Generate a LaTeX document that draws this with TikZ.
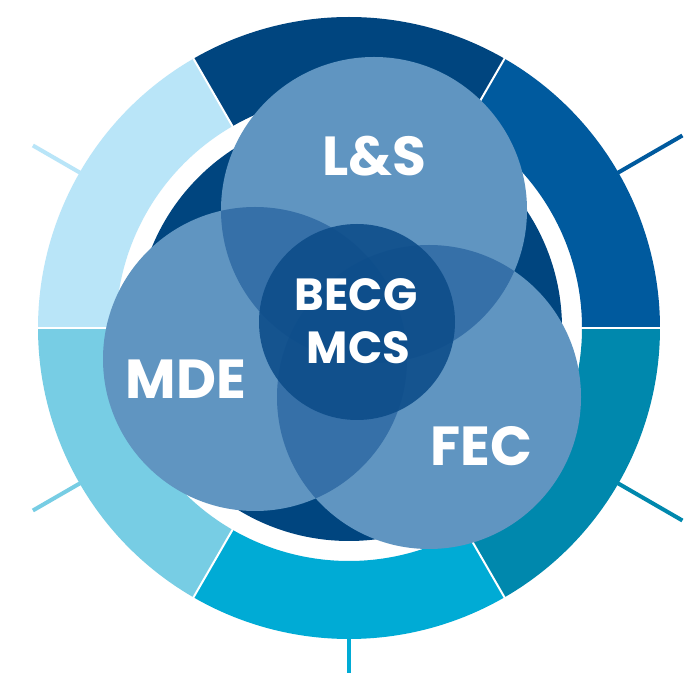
\documentclass[tikz,border=0pt]{standalone}
\usepackage{fontspec}
\setmainfont{Poppins}
\begin{document}
\begin{tikzpicture}[x=1pt,y=1pt,
  spoke/.style={line width=4pt},
  seplineW/.style={draw=white,line width=2pt},
  biglabel/.style={text=white,font=\bfseries\fontsize{55}{55}\selectfont,inner sep=0pt},
  corelabel/.style={text=white,font=\bfseries\fontsize{45}{45}\selectfont,inner sep=0pt}]
\definecolor{segA}{HTML}{005A9E}
\definecolor{segB}{HTML}{00457F}
\definecolor{segC}{HTML}{B9E5F8}
\definecolor{segD}{HTML}{77CDE4}
\definecolor{segE}{HTML}{00ABD5}
\definecolor{segF}{HTML}{0088AD}
\definecolor{diskc}{HTML}{00457F}
\definecolor{onec}{HTML}{6095C1}
\definecolor{twoc}{HTML}{3670A8}
\definecolor{threec}{HTML}{1F5D97}
\definecolor{corec}{HTML}{0D4D8A}
\useasboundingbox (0,0) rectangle (688,672);
\fill[white] (0,0) rectangle (688,672);

% centre of the ring and of the three topic circles
\coordinate (o) at (349,344);
\coordinate (ls) at (374,462);
\coordinate (mde) at (255,313);
\coordinate (fec) at (429,275);
\coordinate (cc) at (357,350);

% spokes leaving the ring
\draw[spoke,segA] (o) ++(30:300pt) -- ++(30:85pt) coordinate (s1);
\draw[spoke,segC] (o) ++(150:300pt) -- ++(150:65pt) coordinate (s2);
\draw[spoke,segD] (o) ++(210:300pt) -- ++(210:65pt) coordinate (s3);
\draw[spoke,segE] (o) ++(270:300pt) -- ++(270:60pt) coordinate (s4);
\draw[spoke,segF] (o) ++(330:300pt) -- ++(330:85pt) coordinate (s5);

% outer ring in six segments
\foreach \a/\c in {0/segA,60/segB,120/segC,180/segD,240/segE,300/segF}{
  \fill[\c] (o) ++(\a:233pt) -- ++(\a:78pt) arc[start angle=\a,end angle=\a+60,radius=311pt]
    -- ++(\a+60:-78pt) arc[start angle=\a+60,end angle=\a,radius=233pt] -- cycle;
}
\foreach \a in {0,60,...,300}{
  \draw[seplineW] (o) ++(\a:231pt) -- ++(\a:82pt);
}

% inner disk
\fill[diskc] (o) circle (213pt);

% topic circles
\fill[onec] (ls) circle (153pt);
\fill[onec] (mde) circle (152pt);
\fill[onec] (fec) circle (152pt);

% pairwise overlaps
\begin{scope}
  \clip (ls) circle (153pt);
  \fill[twoc] (mde) circle (152pt);
  \fill[twoc] (fec) circle (152pt);
\end{scope}
\begin{scope}
  \clip (mde) circle (152pt);
  \fill[twoc] (fec) circle (152pt);
\end{scope}
% triple overlap
\begin{scope}
  \clip (ls) circle (153pt);
  \clip (mde) circle (152pt);
  \fill[threec] (fec) circle (152pt);
\end{scope}

% core circle
\fill[corec,fill opacity=0.9] (cc) circle (98pt);

% labels
\node[biglabel] (tls) at (374.5,515.5) {L\&S};
\node[biglabel] (tmde) at (186,292.5) {MDE};
\node[biglabel] (tfec) at (481.5,226) {FEC};
\node[corelabel] (tbecg) at (356,377) {BECG};
\node[corelabel] (tmcs) at (358.5,324) {MCS};
\end{tikzpicture}
\end{document}
